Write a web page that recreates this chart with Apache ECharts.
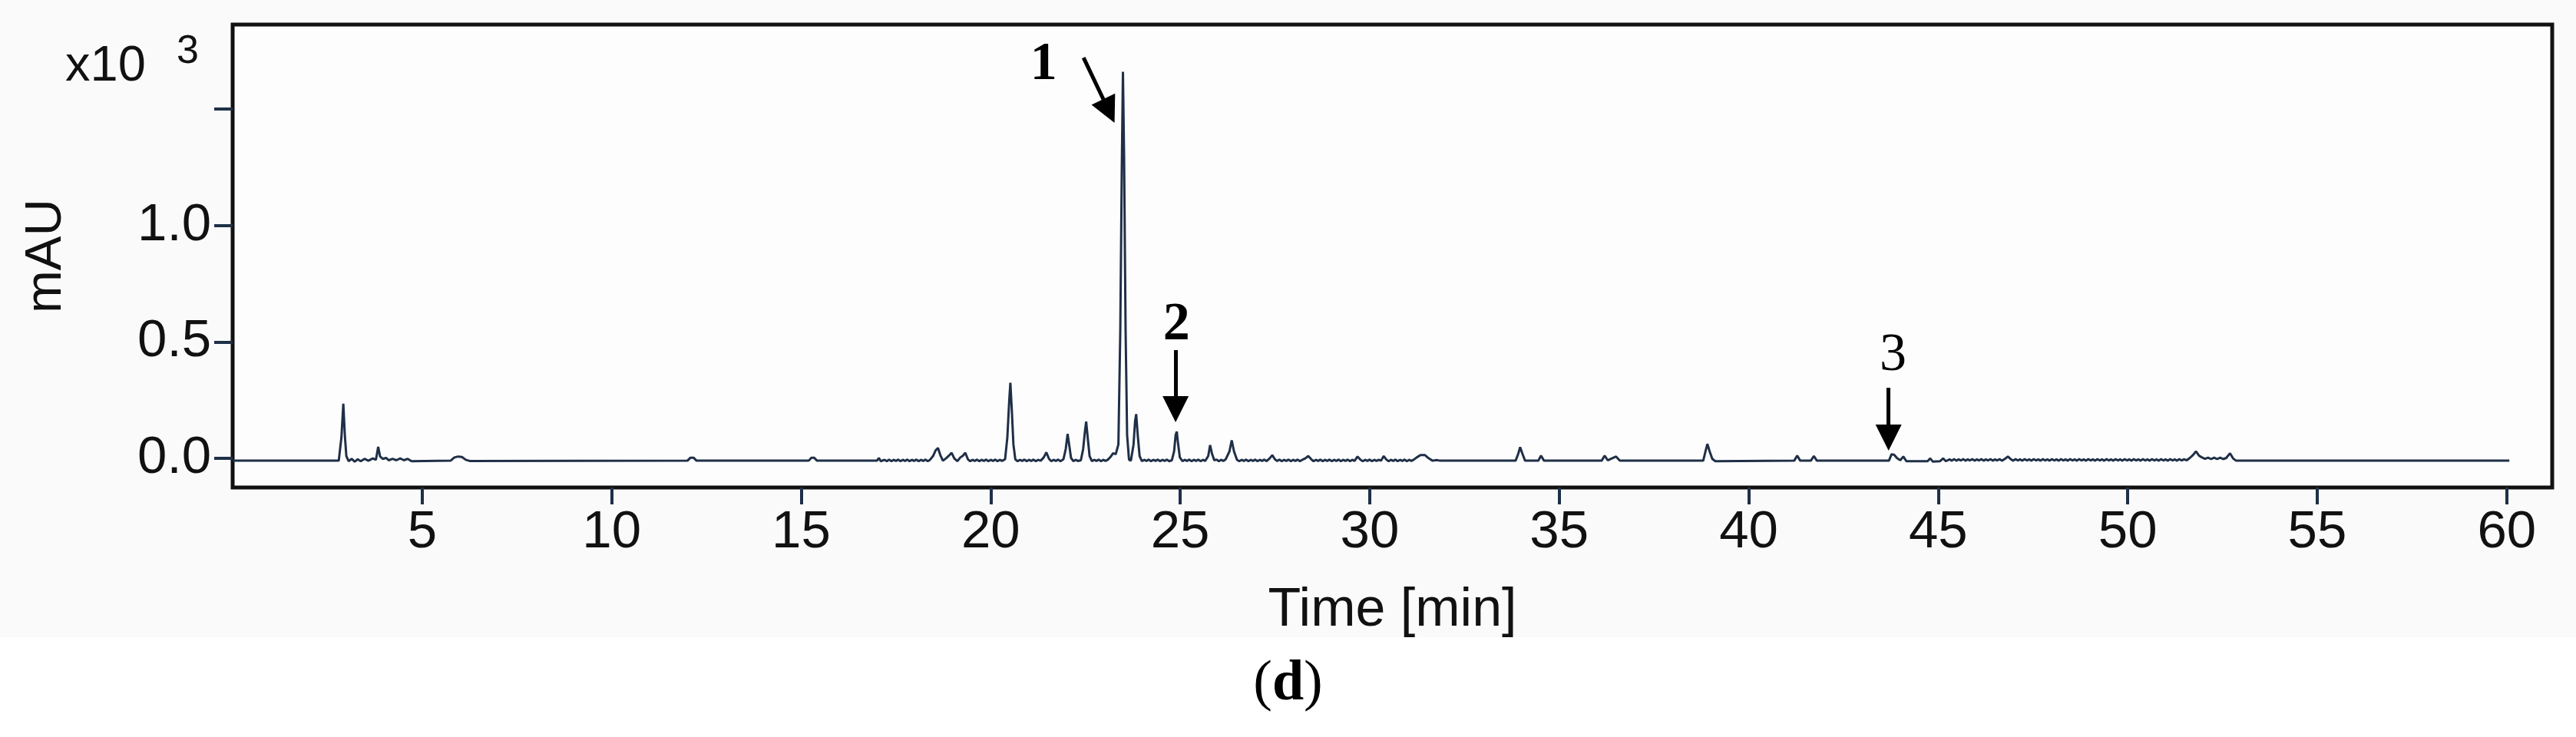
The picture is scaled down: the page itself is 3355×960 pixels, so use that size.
<!DOCTYPE html>
<html>
<head>
<meta charset="utf-8">
<title>HPLC chromatogram (d)</title>
<script src="https://cdn.jsdelivr.net/npm/echarts@6/dist/echarts.min.js"></script>
<style>
html, body { margin: 0; padding: 0; background: #fff; }
#chart {
    width: 3355px;
    height: 960px;
    background: linear-gradient(#fafafa 0, #fafafa 830px, #fff 830px);
}
</style>
</head>
<body>
<div id="chart"></div>
<script>
// trace: [time (min), absorbance (x10^3 mAU)]
var traceEarly = [
    [0, -0.01], [2.8, -0.01], [2.87, 0.09], [2.92, 0.235], [2.96, 0.1], [3.0, 0.01], [3.06, -0.012],
    [3.14, -0.002], [3.22, -0.014], [3.3, -0.004], [3.38, -0.012], [3.48, -0.002], [3.58, -0.01],
    [3.7, 0.0], [3.78, -0.006], [3.84, 0.05], [3.89, 0.008], [3.96, -0.002], [4.05, 0.002],
    [4.12, -0.008], [4.22, -0.002], [4.32, -0.008], [4.42, 0.0], [4.52, -0.008], [4.62, -0.002],
    [4.72, -0.012], [5.75, -0.01], [5.85, 0.004], [5.95, 0.008], [6.05, 0.006], [6.15, -0.006],
    [6.25, -0.011], [12.0, -0.01], [12.08, 0.003], [12.16, 0.003], [12.24, -0.01], [15.2, -0.01],
    [15.27, 0.003], [15.34, 0.003], [15.42, -0.01], [17.0, -0.01], [17.05, 0.002], [17.1, -0.012]
];

var traceBeforeMain = [
    [17.2, -0.006], [17.26, -0.012], [17.32, -0.005], [17.38, -0.012], [17.44, -0.006], [17.5, -0.011],
    [17.56, -0.005], [17.62, -0.012], [17.68, -0.006], [17.74, -0.011], [17.8, -0.005], [17.86, -0.012],
    [17.92, -0.006], [17.98, -0.011], [18.04, -0.005], [18.1, -0.012], [18.16, -0.006], [18.22, -0.011],
    [18.28, -0.005], [18.34, -0.012], [18.4, -0.006], [18.48, 0.01], [18.55, 0.035], [18.61, 0.045],
    [18.67, 0.015], [18.74, -0.01], [18.82, 0.0], [18.9, 0.012], [18.97, 0.024], [19.04, 0.0],
    [19.12, -0.012], [19.2, 0.004], [19.27, 0.012], [19.33, 0.024], [19.4, -0.004], [19.46, -0.012],
    [19.52, -0.006], [19.58, -0.011], [19.64, -0.005], [19.7, -0.012], [19.76, -0.006], [19.82, -0.011],
    [19.88, -0.005], [19.94, -0.012], [20.0, -0.006], [20.06, -0.011], [20.12, -0.005], [20.18, -0.012],
    [20.24, -0.006], [20.3, -0.011], [20.38, -0.004], [20.44, 0.09], [20.49, 0.25], [20.52, 0.325],
    [20.56, 0.2], [20.6, 0.06], [20.65, -0.004], [20.71, -0.012], [20.77, -0.006], [20.83, -0.011],
    [20.89, -0.005], [20.95, -0.012], [21.01, -0.006], [21.07, -0.011], [21.13, -0.005], [21.19, -0.012],
    [21.25, -0.006], [21.32, -0.01], [21.4, 0.004], [21.47, 0.026], [21.54, -0.002], [21.6, -0.012],
    [21.66, -0.006], [21.72, -0.011], [21.78, -0.005], [21.84, -0.012], [21.92, -0.004], [21.98, 0.04],
    [22.03, 0.105], [22.07, 0.06], [22.12, 0.002], [22.18, -0.012], [22.24, -0.006], [22.3, -0.011],
    [22.38, -0.008], [22.44, 0.04], [22.49, 0.12], [22.52, 0.158], [22.56, 0.09], [22.61, 0.01],
    [22.67, -0.012], [22.73, -0.006], [22.79, -0.011], [22.85, -0.005], [22.91, -0.012], [22.97, -0.006],
    [23.03, -0.011], [23.09, -0.006], [23.16, 0.006], [23.23, 0.022], [23.3, 0.018]
];

var traceMain = [
    [23.37, 0.06], [23.42, 0.55], [23.46, 1.25], [23.49, 1.66], [23.52, 1.3], [23.56, 0.55],
    [23.6, 0.1], [23.65, -0.005], [23.7, -0.01], [23.77, 0.06], [23.81, 0.16], [23.84, 0.19],
    [23.88, 0.1], [23.93, 0.01], [23.99, -0.012], [24.05, -0.006], [24.11, -0.011], [24.17, -0.005],
    [24.23, -0.012], [24.29, -0.006], [24.35, -0.011], [24.41, -0.005], [24.47, -0.012], [24.53, -0.006],
    [24.59, -0.011], [24.65, -0.005], [24.71, -0.012], [24.78, -0.008], [24.84, 0.03], [24.88, 0.1],
    [24.91, 0.115], [24.94, 0.07], [24.99, 0.005], [25.06, -0.012]
];

var traceAfterMain = [
    [25.12, -0.006], [25.18, -0.011], [25.24, -0.005], [25.3, -0.012], [25.36, -0.006], [25.42, -0.011],
    [25.48, -0.005], [25.54, -0.012], [25.6, -0.006], [25.66, -0.011], [25.74, 0.01], [25.79, 0.057],
    [25.84, 0.02], [25.9, -0.008], [25.96, -0.005], [26.02, -0.012], [26.08, -0.006], [26.14, -0.011],
    [26.2, -0.004], [26.3, 0.03], [26.36, 0.078], [26.42, 0.03], [26.5, -0.006], [26.56, -0.012],
    [26.62, -0.006], [26.68, -0.011], [26.74, -0.005], [26.8, -0.012], [26.86, -0.006], [26.92, -0.011],
    [26.98, -0.005], [27.04, -0.012], [27.1, -0.006], [27.16, -0.011], [27.22, -0.005], [27.28, -0.012],
    [27.36, 0.0], [27.43, 0.014], [27.5, -0.004], [27.56, -0.011], [27.62, -0.005], [27.68, -0.012],
    [27.74, -0.006], [27.8, -0.011], [27.86, -0.005], [27.92, -0.012], [27.98, -0.006], [28.04, -0.011],
    [28.1, -0.005], [28.16, -0.012], [28.22, -0.006], [28.3, 0.0], [28.38, 0.01], [28.46, -0.004],
    [28.52, -0.012], [28.58, -0.006], [28.64, -0.011], [28.7, -0.005], [28.76, -0.012], [28.82, -0.006],
    [28.88, -0.011], [28.94, -0.005], [29.0, -0.012], [29.06, -0.006], [29.12, -0.011], [29.18, -0.005],
    [29.24, -0.012], [29.3, -0.006], [29.36, -0.011], [29.42, -0.005], [29.48, -0.012], [29.54, -0.006],
    [29.6, -0.011], [29.68, 0.008], [29.76, -0.006], [29.82, -0.012], [29.88, -0.006], [29.94, -0.011],
    [30.0, -0.005], [30.06, -0.012], [30.12, -0.006], [30.18, -0.011], [30.24, -0.006], [30.3, -0.01],
    [30.37, 0.01], [30.44, -0.005], [30.5, -0.012], [30.56, -0.006], [30.62, -0.011], [30.68, -0.005],
    [30.74, -0.012], [30.8, -0.006], [30.86, -0.011], [30.92, -0.005], [30.98, -0.012], [31.04, -0.006],
    [31.1, -0.011], [31.16, -0.006], [31.24, 0.004], [31.34, 0.014], [31.46, 0.014], [31.56, 0.0],
    [31.66, -0.01], [31.76, -0.007], [31.86, -0.01]
];

var traceMiddle = [
    [33.85, -0.01], [33.92, 0.02], [33.97, 0.048], [34.03, 0.02], [34.1, -0.01], [34.45, -0.01],
    [34.52, 0.012], [34.6, -0.01], [36.12, -0.01], [36.2, 0.012], [36.28, -0.008], [36.5, 0.008],
    [36.6, -0.01], [38.8, -0.01], [38.86, 0.03], [38.91, 0.062], [38.97, 0.03], [39.04, -0.002],
    [39.12, -0.012], [41.2, -0.01], [41.28, 0.012], [41.36, -0.01], [41.64, -0.01], [41.72, 0.01],
    [41.8, -0.01], [43.7, -0.01], [43.77, 0.018], [43.84, 0.015], [43.92, 0.0], [44.0, -0.008],
    [44.08, 0.008], [44.16, -0.012], [44.72, -0.012], [44.79, 0.0], [44.86, -0.014], [45.05, -0.012],
    [45.13, 0.0], [45.2, -0.012]
];

var traceLate = [
    [45.3, -0.004], [45.36, -0.01], [45.42, -0.003], [45.48, -0.01], [45.54, -0.004], [45.6, -0.009],
    [45.66, -0.003], [45.72, -0.01], [45.78, -0.004], [45.84, -0.009], [45.9, -0.003], [45.96, -0.01],
    [46.02, -0.004], [46.08, -0.009], [46.14, -0.003], [46.2, -0.01], [46.26, -0.004], [46.32, -0.009],
    [46.38, -0.003], [46.44, -0.01], [46.5, -0.004], [46.56, -0.009], [46.62, -0.003], [46.68, -0.01],
    [46.76, -0.002], [46.84, 0.008], [46.92, -0.004], [46.98, -0.01], [47.04, -0.003], [47.1, -0.009],
    [47.16, -0.004], [47.22, -0.01], [47.28, -0.003], [47.34, -0.009], [47.4, -0.004], [47.46, -0.01],
    [47.52, -0.003], [47.58, -0.009], [47.64, -0.004], [47.7, -0.01], [47.76, -0.003], [47.82, -0.009],
    [47.88, -0.004], [47.94, -0.01], [48.0, -0.003], [48.06, -0.009], [48.12, -0.004], [48.18, -0.01],
    [48.24, -0.003], [48.3, -0.009], [48.36, -0.004], [48.42, -0.01], [48.48, -0.003], [48.54, -0.009],
    [48.6, -0.004], [48.66, -0.01], [48.72, -0.003], [48.78, -0.009], [48.84, -0.004], [48.9, -0.01],
    [48.96, -0.003], [49.02, -0.009], [49.08, -0.004], [49.14, -0.01], [49.2, -0.003], [49.26, -0.009],
    [49.32, -0.004], [49.38, -0.01], [49.44, -0.003], [49.5, -0.009], [49.56, -0.004], [49.62, -0.01],
    [49.68, -0.003], [49.74, -0.009], [49.8, -0.004], [49.86, -0.01], [49.92, -0.003], [49.98, -0.009],
    [50.04, -0.004], [50.1, -0.01], [50.16, -0.003], [50.22, -0.009], [50.28, -0.004], [50.34, -0.01],
    [50.4, -0.003], [50.46, -0.009], [50.52, -0.004], [50.58, -0.01], [50.64, -0.003], [50.7, -0.009],
    [50.76, -0.004], [50.82, -0.01], [50.88, -0.003], [50.94, -0.009], [51.0, -0.004], [51.06, -0.01],
    [51.12, -0.003], [51.18, -0.009], [51.24, -0.004], [51.3, -0.01], [51.36, -0.003], [51.42, -0.009],
    [51.48, -0.004], [51.56, -0.008], [51.64, 0.002], [51.72, 0.014], [51.8, 0.03], [51.88, 0.012],
    [51.96, 0.004], [52.04, -0.002], [52.12, 0.003], [52.2, -0.003], [52.28, 0.003], [52.36, -0.003],
    [52.44, 0.003], [52.52, -0.003], [52.6, 0.002], [52.7, 0.022], [52.78, 0.0], [52.86, -0.01],
    [60.07, -0.01]
];

var xTicks = [5, 10, 15, 20, 25, 30, 35, 40, 45, 50, 55, 60];
var yTicks = [0, 0.5, 1.0, 1.5];
var yLabels = [0, 0.5, 1.0];

// numbered peaks: label position, arrow tail, arrow head centre (data coords)
var peakNames = ['1', '2', '3'];
var peakBold = [true, true, false];
var peakLabelAt = [[21.4, 1.69], [24.9, 0.57], [43.81, 0.44]];
var arrowFrom = [[22.45, 1.721], [24.88, 0.465], [43.69, 0.303]];
var arrowTo = [[23.12, 1.492], [24.88, 0.211], [43.69, 0.089]];

var trace = [].concat(traceEarly, traceBeforeMain, traceMain, traceAfterMain, traceMiddle, traceLate);

var sans = '"Liberation Sans", Arial, Helvetica, sans-serif';
var serif = '"Liberation Serif", "Times New Roman", serif';
var lineColor = '#1f2f47';

var chart = echarts.init(document.getElementById('chart'), null, { renderer: 'canvas' });

var option = {
    animation: false,
    backgroundColor: 'transparent',
    grid: {
        left: 303,
        right: 31,
        top: 32,
        bottom: 325,
        show: true,
        borderColor: '#111',
        borderWidth: 5,
        backgroundColor: '#fdfdfd'
    },
    xAxis: {
        type: 'value',
        min: 0,
        max: 61.2,
        axisLine: { show: false, onZero: false },
        splitLine: { show: false },
        axisTick: {
            show: true,
            inside: false,
            length: 22,
            customValues: xTicks,
            lineStyle: { color: lineColor, width: 4 }
        },
        axisLabel: {
            customValues: xTicks,
            margin: 24,
            fontSize: 69,
            fontFamily: sans,
            color: '#111',
            formatter: function (v) { return String(v); }
        },
        name: 'Time [min]',
        nameLocation: 'middle',
        nameGap: 126,
        nameTextStyle: { fontSize: 70, fontFamily: sans, color: '#111' }
    },
    yAxis: {
        type: 'value',
        min: -0.125,
        max: 1.863,
        axisLine: { show: false, onZero: false },
        splitLine: { show: false },
        axisTick: {
            show: true,
            inside: false,
            length: 24,
            customValues: yTicks,
            lineStyle: { color: lineColor, width: 4 }
        },
        axisLabel: {
            customValues: yLabels,
            margin: 28,
            fontSize: 69,
            fontFamily: sans,
            color: '#111',
            formatter: function (v) { return v.toFixed(1); }
        },
        name: 'mAU',
        nameLocation: 'middle',
        nameRotate: 90,
        nameGap: 209,
        nameTextStyle: { fontSize: 67, fontFamily: sans, color: '#111' }
    },
    graphic: [
        {
            type: 'text',
            left: 85,
            top: 55,
            style: { text: 'x10', fontSize: 65, fontFamily: sans, fill: '#111' }
        },
        {
            type: 'text',
            left: 230,
            top: 42,
            style: { text: '3', fontSize: 52, fontFamily: sans, fill: '#111' }
        },
        {
            type: 'text',
            left: 'center',
            top: 855,
            style: {
                text: '({d|d})',
                fontSize: 74,
                fontFamily: serif,
                fill: '#000',
                rich: { d: { fontSize: 74, fontFamily: serif, fontWeight: 'bold', fill: '#000' } }
            }
        }
    ],
    series: [
        {
            type: 'line',
            data: trace,
            showSymbol: false,
            smooth: false,
            lineStyle: { color: lineColor, width: 3 },
            silent: true,
            markLine: {
                silent: true,
                symbol: ['none', 'triangle'],
                symbolSize: [34, 34],
                lineStyle: { color: '#000', width: 5, type: 'solid' },
                label: { show: false },
                data: arrowFrom.map(function (p, i) {
                    return [{ coord: p }, { coord: arrowTo[i] }];
                })
            },
            markPoint: {
                silent: true,
                symbol: 'circle',
                symbolSize: 1,
                itemStyle: { color: 'rgba(0,0,0,0)' },
                data: peakNames.map(function (n, i) {
                    return {
                        coord: peakLabelAt[i],
                        value: n,
                        label: {
                            show: true,
                            position: 'inside',
                            formatter: n,
                            fontSize: 70,
                            fontFamily: serif,
                            fontWeight: peakBold[i] ? 'bold' : 'normal',
                            color: '#000'
                        }
                    };
                })
            }
        }
    ]
};

chart.setOption(option);
</script>
</body>
</html>
